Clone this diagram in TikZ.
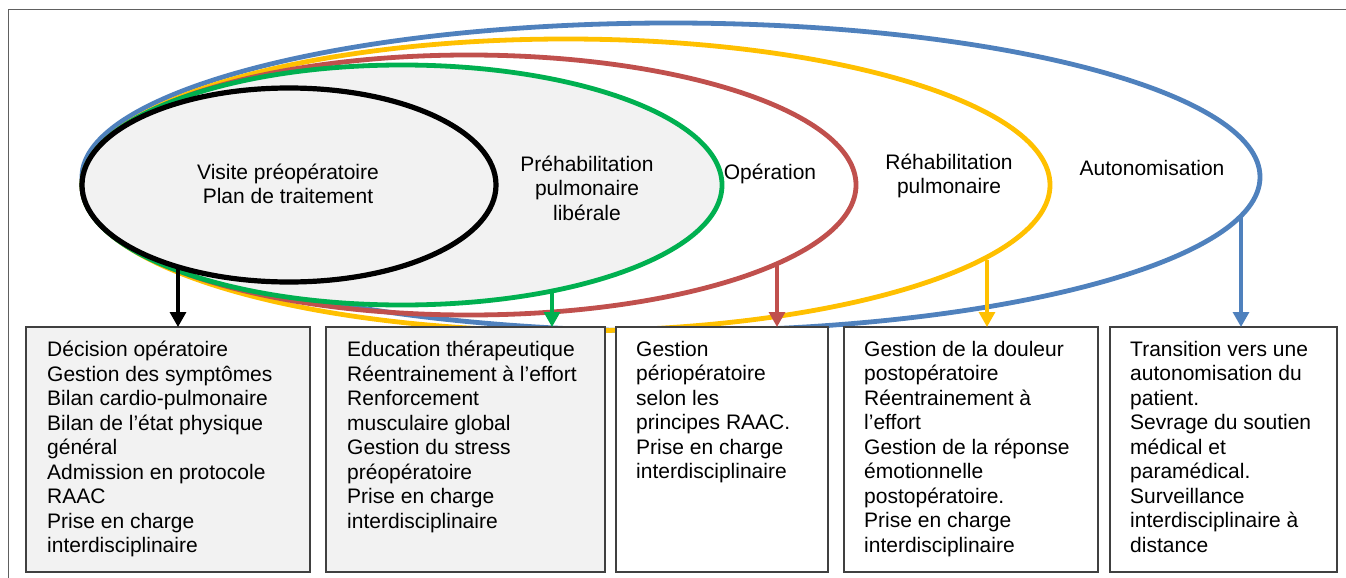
\documentclass[tikz,border=0pt]{standalone}
\usepackage{fontspec}
\setmainfont{Liberation Sans}
\usetikzlibrary{shapes.geometric,arrows.meta}
\definecolor{cblue}{HTML}{4F81BD}
\definecolor{cyellow}{HTML}{FFC000}
\definecolor{cred}{HTML}{C0504D}
\definecolor{cgreen}{HTML}{00B050}
\definecolor{cgray}{HTML}{F2F2F2}
\definecolor{cframe}{HTML}{606060}
\definecolor{cbox}{HTML}{404040}
\begin{document}
\begin{tikzpicture}[x=1pt,y=-1pt,
  txt/.style={font=\fontsize{21}{24.5}\selectfont, inner sep=0pt, align=center},
  ring/.style={ellipse, inner sep=0pt, outer sep=0pt, line width=4.8pt},
  arr/.style={line width=3.2pt, -{Triangle[width=16pt,length=15pt]}},
  box/.style={draw=cbox, line width=1.3pt, anchor=north west, inner sep=0pt, outer sep=0pt},
  boxtxt/.style={font=\fontsize{21}{24.5}\selectfont, inner sep=0pt, align=left, anchor=north west}]
\useasboundingbox (0,0) rectangle (1346,578);
\fill[white] (0,0) rectangle (1346,578);
% frame
\draw[cframe, line width=1pt] (8,578) -- (8,10) -- (1346,10);
% ellipses
\node[ring, draw=cblue, minimum width=1178pt, minimum height=308pt] (eblue) at (671,177) {};
\node[ring, draw=cyellow, minimum width=968pt, minimum height=292pt] (eyellow) at (566,185) {};
\node[ring, draw=cred, minimum width=774pt, minimum height=260pt] (ered) at (469,185) {};
\node[ring, draw=cgreen, fill=cgray, minimum width=640pt, minimum height=240pt] (egreen) at (402,185) {};
\node[ring, draw=black, fill=cgray, line width=5.2pt, minimum width=414pt, minimum height=194pt] (eblack) at (289,185) {};
% labels
\node[txt] (l1) at (288,184) {Visite préopératoire\\Plan de traitement};
\node[txt] (l2) at (587,188) {Préhabilitation\\pulmonaire\\libérale};
\node[txt] (l3) at (770,174) {Opération};
\node[txt] (l4) at (949,176) {Réhabilitation\\pulmonaire};
\node[txt] (l5) at (1152,168) {Autonomisation};
% boxes
\node[box, fill=cgray, minimum width=284pt, minimum height=245pt] (b1) at (26,327) {};
\node[box, fill=cgray, minimum width=279pt, minimum height=245pt] (b2) at (326,327) {};
\node[box, fill=white, minimum width=212pt, minimum height=245pt] (b3) at (616,327) {};
\node[box, fill=white, minimum width=254pt, minimum height=245pt] (b4) at (844,327) {};
\node[box, fill=white, minimum width=227pt, minimum height=245pt] (b5) at (1110,327) {};
% box texts
\node[boxtxt] (t1) at ([xshift=21pt,yshift=-14pt]b1.north west) {Décision opératoire\\Gestion des symptômes\\Bilan cardio-pulmonaire\\Bilan de l’état physique\\général\\Admission en protocole\\RAAC\\Prise en charge\\interdisciplinaire};
\node[boxtxt] (t2) at ([xshift=21pt,yshift=-14pt]b2.north west) {Education thérapeutique\\Réentrainement à l’effort\\Renforcement\\musculaire global\\Gestion du stress\\préopératoire\\Prise en charge\\interdisciplinaire};
\node[boxtxt] (t3) at ([xshift=20pt,yshift=-14pt]b3.north west) {Gestion\\périopératoire\\selon les\\principes RAAC.\\Prise en charge\\interdisciplinaire};
\node[boxtxt] (t4) at ([xshift=20pt,yshift=-14pt]b4.north west) {Gestion de la douleur\\postopératoire\\Réentrainement à\\l’effort\\Gestion de la réponse\\émotionnelle\\postopératoire.\\Prise en charge\\interdisciplinaire};
\node[boxtxt] (t5) at ([xshift=20pt,yshift=-14pt]b5.north west) {Transition vers une\\autonomisation du\\patient.\\Sevrage du soutien\\médical et\\paramédical.\\Surveillance\\interdisciplinaire à\\distance};
% arrow starts
\coordinate (a1) at (178,267);
\coordinate (a2) at (552,291);
\coordinate (a3) at (777,265);
\coordinate (a4) at (987,260);
\coordinate (a5) at (1241,216);
\draw[arr, black] (a1) -- (a1 |- b1.north);
\draw[arr, cgreen] (a2) -- (a2 |- b2.north);
\draw[arr, cred] (a3) -- (a3 |- b3.north);
\draw[arr, cyellow] (a4) -- (a4 |- b4.north);
\draw[arr, cblue] (a5) -- (a5 |- b5.north);
\end{tikzpicture}
\end{document}
